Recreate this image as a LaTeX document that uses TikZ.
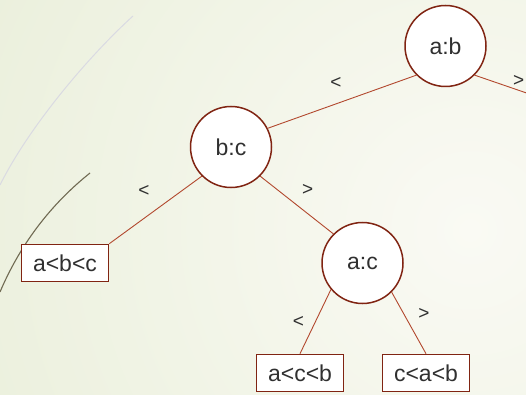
\documentclass[tikz,border=0pt]{standalone}
\usepackage{fontspec}
\setmainfont{Liberation Sans}

\definecolor{paper}{RGB}{250,250,244}
\definecolor{moss}{RGB}{222,231,200}
\definecolor{rim}{RGB}{128,36,18}
\definecolor{twigcol}{RGB}{178,72,46}
\definecolor{ink}{RGB}{48,48,48}

\begin{document}
\begin{tikzpicture}[x=1pt,y=-1pt]
\tikzstyle{cmp}=[draw=rim,circle,fill=white,line width=1.5pt,minimum size=81pt,inner sep=0pt,text=ink,font=\fontsize{23}{23}\selectfont]
\tikzstyle{leaf}=[draw=rim,rectangle,fill=white,line width=1.6pt,minimum width=87pt,minimum height=37pt,inner sep=0pt,text=ink,font=\fontsize{23}{23}\selectfont]
\tikzstyle{rel}=[text=ink,font=\fontsize{19}{19}\selectfont,inner sep=0pt]
\tikzstyle{twig}=[draw=twigcol,line width=0.9pt]
\useasboundingbox (0,0) rectangle (526,395);
\clip (0,0) rectangle (526,395);
% background of the slide
\shade[inner color=paper,outer color=moss] (470,230) circle (1000pt);
\draw[color={rgb,255:red,218;green,218;blue,226},line width=1pt] (0,185) .. controls (30,125) and (90,55) .. (133,16);
\draw[color={rgb,255:red,112;green,106;blue,82},line width=1.1pt] (0,292) .. controls (20,245) and (50,205) .. (90,173);
% comparisons and leaves
\node[cmp] (ab) at (445.5,46) {a:b};
\node[cmp] (bc) at (231,147) {b:c};
\node[cmp] (ac) at (362.5,263) {a:c};
\node[leaf] (abc) at (65,263) {a<b<c};
\node[leaf] (acb) at (300,373) {a<c<b};
\node[leaf] (cab) at (426,373) {c<a<b};
\coordinate (off) at (560,104.5);
\draw[twig] (ab.south west) to (bc.27);
\draw[twig] (ab.south east) to (off);
\draw[twig] (bc.south west) to (abc.north east);
\draw[twig] (bc.south east) to (ac.north west);
\draw[twig] (ac.220) to (acb.north);
\draw[twig] (ac.south east) to (cab.north);
\node[rel] (l1) at (336,83) {<};
\node[rel] (g1) at (518.7,80.5) {>};
\node[rel] (l2) at (144,190.5) {<};
\node[rel] (g2) at (307.7,189.5) {>};
\node[rel] (l3) at (298.3,322) {<};
\node[rel] (g3) at (424,314.3) {>};
\end{tikzpicture}
\end{document}
